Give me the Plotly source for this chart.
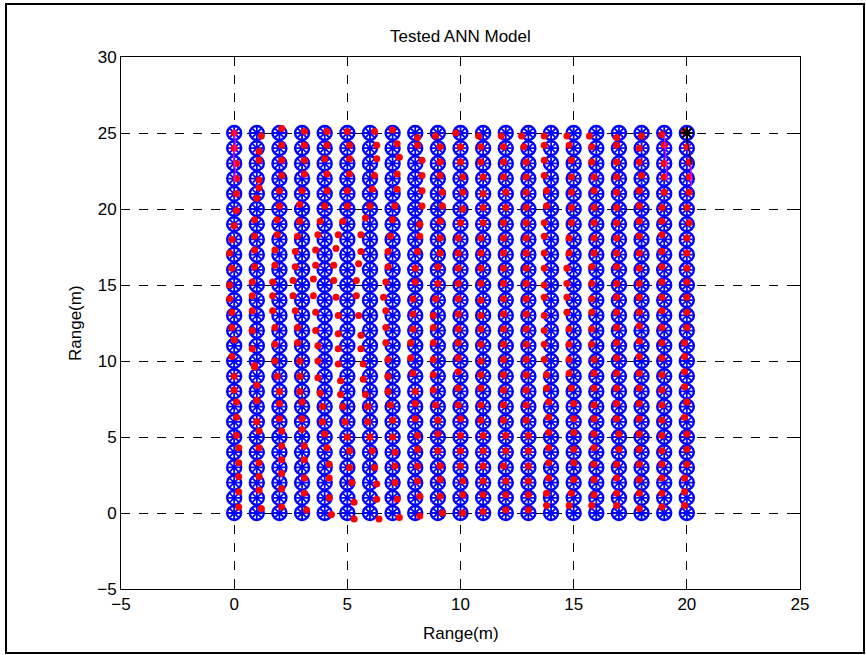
import plotly.graph_objects as go

# Target grid (metres)
x_targets = list(range(0, 21))
y_targets = list(range(0, 26))

# ANN prediction offsets, in tenths of a metre.
# One list per column x = 0..20; each list runs y = 0..25.
dx_tenths = [
    [2, 2, 2, 2, 2, 1, 1, 1, 0, 0, -1, 0, -1, -1, -2, -2, -1, -2, -1, 0, 1, 1, 1, 1, 0, 0],
    [2, 1, 1, 1, 1, 1, 0, 0, 0, -1, -1, -2, -2, -2, -2, -2, -1, -1, -1, -1, 0, 1, 1, 1, 1, 2],
    [1, 1, 1, 1, 1, 1, 0, 0, 0, -1, -2, -2, -2, -3, -3, -3, -2, -2, -1, -1, 0, 0, 1, 1, 1, 1],
    [2, 1, 1, 1, 1, 0, 0, 0, -1, -1, -1, -2, -2, -3, -4, -4, -3, -3, -2, -1, -1, 0, 1, 1, 1, 1],
    [3, 2, 2, 2, 1, 0, -1, -1, -2, -3, -3, -3, -4, -4, -5, -5, -4, -4, -3, -2, 0, 1, 1, 0, 1, 1],
    [3, 3, 2, 1, 1, 0, -1, -2, -3, -3, -4, -4, -4, -4, -5, -6, -6, -5, -4, -2, 0, 0, 1, 1, 1, 0],
    [4, 3, 3, 2, 1, 0, -1, -1, -2, -3, -3, -4, -4, -5, -6, -6, -5, -4, -4, -2, 0, 1, 2, 3, 3, 2],
    [3, 2, 1, 1, 1, 0, 0, -1, -2, -2, -2, -3, -3, -3, -4, -3, -2, -2, -1, 0, 1, 2, 2, 3, 2, 0],
    [2, 2, 1, 1, 1, 1, 0, 0, 0, -1, -2, -2, -1, -1, -1, 0, 0, 1, 2, 2, 3, 3, 3, 3, 1, 1],
    [2, 1, 1, 1, 0, 0, 0, -1, -2, -2, -2, -2, -2, -2, -1, 0, 0, 1, 1, 1, 2, 2, 1, 1, 1, -1],
    [1, 1, 1, 0, 0, 0, 0, -1, -1, -1, -1, -1, -1, -1, -1, -1, -1, -1, -1, 0, 1, 1, 1, 0, 0, -2],
    [0, 0, 0, 0, 0, 0, -1, -1, -1, -1, -1, -1, -1, -1, -1, -1, -1, -1, -1, 0, 0, 0, 0, -1, -1, -2],
    [0, 0, 0, -1, 0, 0, -1, -1, -1, -1, -1, -1, -1, -1, -1, -1, -1, -1, -1, -1, 0, 0, -1, -1, -1, -2],
    [0, 0, 0, 0, 0, 0, -1, -1, -1, -1, -1, -1, -1, -1, -1, -1, -1, -1, -1, -1, -1, -1, -1, -1, -2, -3],
    [-2, -2, -1, -1, -1, -1, -1, -1, -2, -2, -3, -3, -3, -3, -3, -3, -3, -3, -3, -3, -2, -2, -3, -3, -3, -3],
    [-2, -1, 0, 0, 0, 0, 0, 0, -1, -2, -2, -2, -2, -3, -3, -3, -3, -2, -2, -1, -1, -1, -1, -1, -2, -3],
    [-2, -1, -1, -1, -1, -1, -1, -1, -1, -1, -1, -2, -2, -2, -2, -2, -2, -1, -1, -1, -1, -1, -1, -2, -2, -3],
    [-1, -1, -1, -1, 0, 0, -1, -1, -1, -1, -1, -1, -1, -1, -1, -1, -1, -1, -1, -1, -1, -1, -1, -1, -1, -1],
    [-1, -1, -1, -1, -1, -1, -1, -1, -1, -1, -1, -1, -1, -1, -1, -1, -1, -1, -1, -1, -1, -1, 0, -1, -1, 0],
    [-1, -1, -1, -1, -1, -1, -1, -1, -1, -1, -1, -1, -1, -1, -1, -1, -1, -1, -1, -1, -1, 0, 0, 0, 0, -1],
    [-1, -1, -1, 0, 0, 0, -1, 0, -1, -1, -1, -1, 0, 0, 0, 0, 0, 0, 0, 1, 0, 1, 1, 1, 0, -1],
]
dy_tenths = [
    [4, 4, 4, 3, 3, 1, 3, 3, 1, 0, 3, 4, 2, 2, 1, 0, 1, 1, 0, -1, -1, 0, 0, 0, 0, 0],
    [3, 5, 4, 3, 3, 4, 0, 4, 4, 6, -3, -2, 0, 3, 3, 2, 2, 3, 2, 3, 7, 4, -1, 2, -2, -2],
    [4, 6, 6, 5, 4, 4, 2, 2, 0, 0, 0, 1, 2, 3, 3, 2, 3, 3, 3, 3, 2, 2, 2, 2, 2, 3],
    [2, 3, 3, 5, 4, 5, 2, 3, 0, 0, 0, 2, 2, 3, 3, 3, 2, 2, 2, 2, 3, 2, 3, 2, 2, 1],
    [-1, 0, 3, 2, 3, 2, 0, 0, -1, -1, 0, 0, 0, 2, 3, 4, 3, 3, 3, 2, 2, 2, 3, 3, 2, 1],
    [-4, -3, 0, 0, 1, 0, 0, 0, -2, -3, -2, -2, -2, 0, 2, 3, 3, 4, 3, 2, 2, 2, 3, 3, 2, 1],
    [-4, -1, -1, 0, 1, 0, 0, 0, -2, -2, -2, -2, -3, 0, 3, 3, 4, 2, 3, 4, 2, 3, 2, 3, 2, 1],
    [-3, -1, 0, 1, 0, 0, 1, 1, 0, 0, 1, 2, 2, 3, 2, 2, 2, 2, 2, 3, 2, 3, 3, 4, 3, 2],
    [-2, 1, 1, 1, 2, 1, 2, 2, 0, 2, 2, 2, 1, 1, 1, 2, 1, 2, 2, 0, 2, 2, 2, 2, 2, -3],
    [0, 1, 2, 1, 1, 2, 1, 1, 1, 1, 1, 2, 2, 0, 1, 1, 2, 1, 1, 2, 2, 1, 2, 1, 1, -2],
    [0, 2, 1, 1, 1, 1, 2, 1, 2, 3, 2, 2, 1, 1, 1, 1, 1, 1, 1, 1, 0, 1, 1, 1, 1, 0],
    [1, 2, 1, 1, 1, 1, 1, 1, 2, 1, 0, 1, 1, 0, 0, 1, 1, 1, 1, 1, 1, 0, 1, 1, 1, -2],
    [2, 2, 1, 1, 1, 1, 1, 1, 1, 1, 1, 1, 1, 1, 1, 1, 1, 1, 1, 1, 1, 1, 1, 1, 1, -2],
    [2, 2, 1, 1, 1, 1, 1, 1, 1, 1, 1, 1, 1, 1, 1, 1, 1, 1, 1, 1, 1, 1, 1, 1, 1, -2],
    [5, 3, 3, 3, 3, 3, 3, 3, 2, 1, 1, 1, 0, 0, 2, 0, 1, 1, 2, 1, 2, 2, 2, 2, 2, -2],
    [5, 3, 2, 3, 2, 3, 2, 2, 2, 2, 1, 1, 1, 2, 2, 1, 1, 1, 1, 1, 1, 1, 1, 2, 2, -2],
    [5, 2, 2, 2, 3, 2, 2, 1, 2, 2, 1, 1, 1, 2, 1, 1, 2, 1, 1, 1, 1, 2, 1, 1, 1, -2],
    [5, 3, 3, 2, 2, 2, 2, 2, 2, 2, 2, 2, 2, 2, 2, 1, 2, 1, 1, 1, 1, 1, 1, 1, 2, -3],
    [3, 3, 2, 2, 2, 2, 2, 2, 2, 2, 3, 3, 3, 2, 2, 1, 1, 1, 2, 2, 2, 2, 2, 1, 0, -2],
    [4, 3, 3, 2, 1, 1, 1, 1, 1, 1, 2, 2, 2, 3, 2, 2, 2, 2, 3, 2, 1, 1, 1, 0, 2, -1],
    [5, 4, 3, 2, 2, 2, 3, 3, 3, 3, 3, 2, 2, 2, 2, 2, 1, 1, 1, 1, 1, 1, 1, 1, 1, 1],
]

# Short trajectory traces visible near the top of the grid
traj_magenta_a_x = [0.0, 0.05, -0.03, 0.05, 0.02]
traj_magenta_a_y = [25.2, 24.3, 23.4, 22.6, 21.8]
traj_magenta_b_x = [19.0, 19.05, 19.1, 19.1]
traj_magenta_b_y = [24.9, 23.8, 22.8, 21.9]
traj_magenta_c_x = [20.1, 20.15, 20.2, 20.2]
traj_magenta_c_y = [24.3, 23.2, 22.3, 21.5]
traj_black_x = [20.0, 20.05, 20.15, 20.2]
traj_black_y = [25.0, 24.3, 23.4, 22.9]
start_x = [20]
start_y = [25]

tx, ty, px, py = [], [], [], []
for i, xv in enumerate(x_targets):
    for j, yv in enumerate(y_targets):
        tx.append(xv)
        ty.append(yv)
        px.append(xv + dx_tenths[i][j] / 10.0)
        py.append(yv + dy_tenths[i][j] / 10.0)

fig = go.Figure()
fig.add_trace(go.Scatter(x=tx, y=ty, mode="markers",
                         marker=dict(symbol="circle-open", size=14, color="#0000FF",
                                     line=dict(width=2.4, color="#0000FF")),
                         hoverinfo="skip", showlegend=False))
fig.add_trace(go.Scatter(x=tx, y=ty, mode="markers",
                         marker=dict(symbol="asterisk-open", size=10, color="#0000FF",
                                     line=dict(width=1.8, color="#0000FF")),
                         hoverinfo="skip", showlegend=False))
fig.add_trace(go.Scatter(x=px, y=py, mode="markers",
                         marker=dict(symbol="circle", size=7, color="#FF0000",
                                     line=dict(width=0)),
                         showlegend=False))
for lx, ly, col in [(traj_magenta_a_x, traj_magenta_a_y, "#FF00FF"),
                    (traj_magenta_b_x, traj_magenta_b_y, "#FF00FF"),
                    (traj_magenta_c_x, traj_magenta_c_y, "#FF00FF"),
                    (traj_black_x, traj_black_y, "#000000")]:
    fig.add_trace(go.Scatter(x=lx, y=ly, mode="lines",
                             line=dict(color=col, width=1.2),
                             hoverinfo="skip", showlegend=False))
fig.add_trace(go.Scatter(x=start_x, y=start_y, mode="markers",
                         marker=dict(symbol="asterisk-open", size=11, color="#000000",
                                     line=dict(width=2, color="#000000")),
                         showlegend=False))

font_family = "Liberation Sans, Arial, sans-serif"
fsize = 17
axis_common = dict(showline=True, linecolor="black", linewidth=1, mirror="ticks",
                   ticks="inside", ticklen=5, tickcolor="black", tickwidth=1,
                   showgrid=True, gridcolor="black", gridwidth=1, griddash="dash",
                   zeroline=False, tickfont=dict(family=font_family, size=fsize, color="black"),
                   dtick=5)

fig.update_layout(
    width=866, height=655,
    margin=dict(l=121, r=66, t=57, b=66),
    paper_bgcolor="white", plot_bgcolor="white",
    xaxis=dict(range=[-5, 25], tick0=-5, **axis_common),
    yaxis=dict(range=[-5, 30], tick0=-5, **axis_common),
    font=dict(family=font_family, size=fsize, color="black"),
    annotations=[
        dict(text="Tested ANN Model", xref="paper", yref="paper", x=0.5,
             y=(589 - 37) / 532, xanchor="center", yanchor="middle", showarrow=False,
             font=dict(family=font_family, size=fsize, color="black")),
        dict(text="Range(m)", xref="paper", yref="paper", x=0.5,
             y=(589 - 633) / 532, xanchor="center", yanchor="middle", showarrow=False,
             font=dict(family=font_family, size=fsize, color="black")),
        dict(text="Range(m)", xref="paper", yref="paper", x=(75 - 121) / 679,
             y=0.5, xanchor="center", yanchor="middle", showarrow=False, textangle=-90,
             font=dict(family=font_family, size=fsize, color="black")),
    ],
    shapes=[dict(type="rect", xref="paper", yref="paper",
                 x0=(6 - 121) / 679, x1=(864 - 121) / 679,
                 y0=(589 - 653) / 532, y1=(589 - 4) / 532,
                 line=dict(color="black", width=2), fillcolor="rgba(0,0,0,0)",
                 layer="below")],
)

fig.write_html("out.html")
